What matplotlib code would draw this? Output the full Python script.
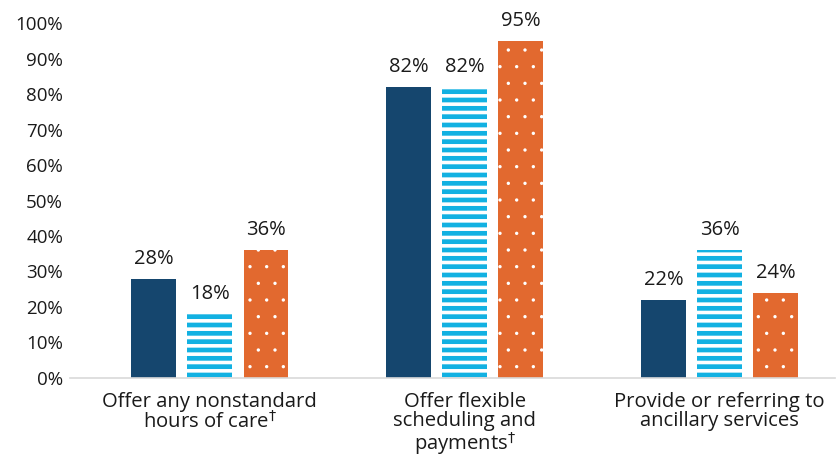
import numpy as np
import matplotlib
matplotlib.use("Agg")
import matplotlib.pyplot as plt

categories = ["Offer any nonstandard\nhours of care$^{\\dagger}$",
              "Offer flexible\nscheduling and\npayments$^{\\dagger}$",
              "Provide or referring to\nancillary services"]
series_a = [28, 82, 22]   # dark navy
series_b = [18, 82, 36]   # blue stripes
series_c = [36, 95, 24]   # orange dots
yticks = list(range(0, 101, 10))

navy = "#15466E"
blue = "#12B1E2"
orange = "#E2692F"
txt = "#1a1a1a"

plt.rcParams['font.family'] = ['Open Sans', 'DejaVu Sans']

fig = plt.figure(figsize=(8.38, 4.63), dpi=100)
ax = fig.add_axes([0.0835, 0.1836, 0.9125, 0.7667])

x = np.arange(len(categories))
w = 0.176
off = 0.22

b1 = ax.bar(x - off, series_a, w, color=navy, linewidth=0)
with plt.rc_context({'hatch.linewidth': 2.6}):
    b2 = ax.bar(x, series_b, w, facecolor=blue, edgecolor="white",
                linewidth=0, hatch="--")
with plt.rc_context({'hatch.linewidth': 0.0}):
    b3 = ax.bar(x + off, series_c, w, facecolor=orange, edgecolor="white",
                linewidth=0, hatch=".")

for bars, vals in [(b1, series_a), (b2, series_b), (b3, series_c)]:
    for r, v in zip(bars, vals):
        ax.annotate(f"{v}%", (r.get_x() + r.get_width() / 2, v),
                    xytext=(0, 7), textcoords="offset points",
                    ha="center", va="bottom", fontsize=14.5, color=txt)

ax.set_ylim(0, 100)
ax.set_xlim(-0.549, 2.451)
ax.set_yticks(yticks)
ax.set_yticklabels([f"{t}%" for t in yticks], fontsize=13.5, color=txt)
ax.set_xticks(x)
ax.set_xticklabels(categories, fontsize=14.6, color=txt, linespacing=0.95, va="top")
ax.tick_params(axis="both", length=0)
ax.tick_params(axis="y", pad=5)
ax.tick_params(axis="x", pad=10)

for s in ["top", "right", "left"]:
    ax.spines[s].set_visible(False)
ax.spines["bottom"].set_color("#d9d9d9")
ax.spines["bottom"].set_linewidth(1.2)

fig.savefig("out.png", dpi=100)
